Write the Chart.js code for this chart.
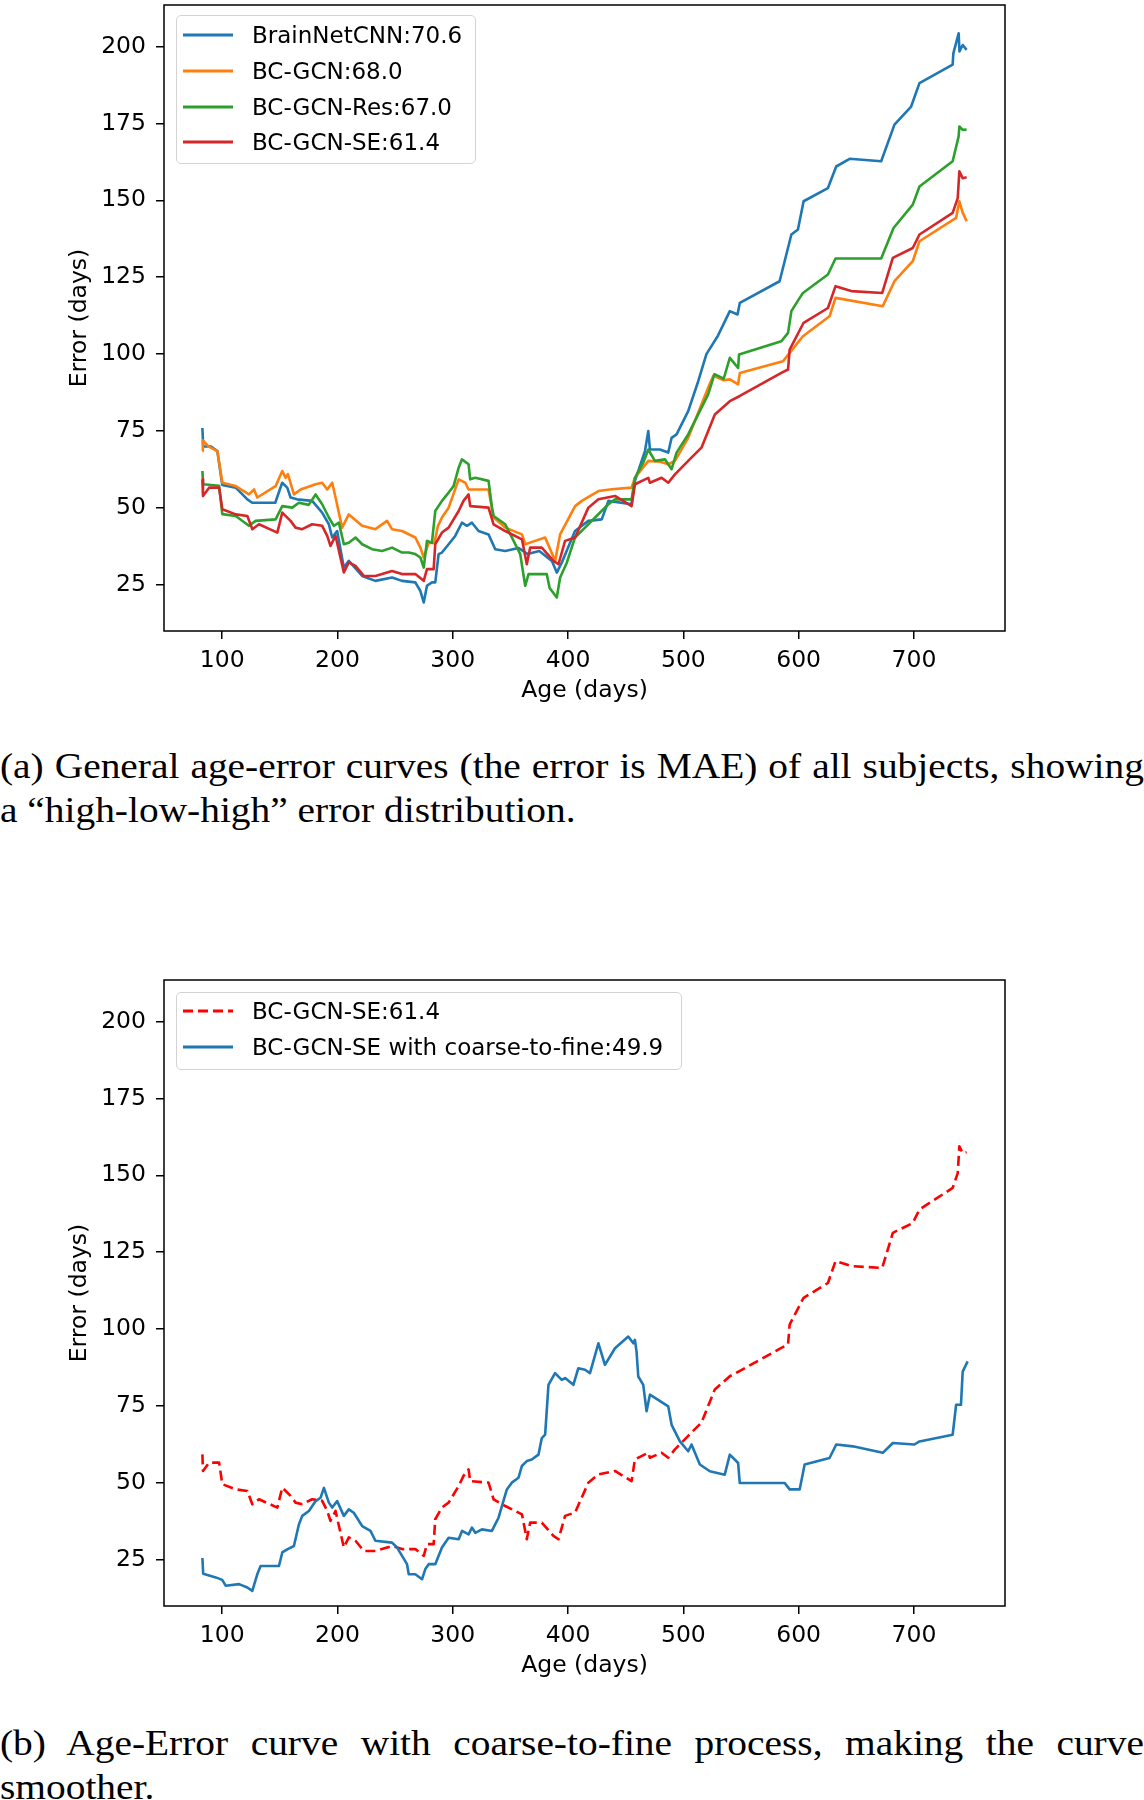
<!DOCTYPE html>
<html>
<head>
<meta charset="utf-8">
<title>Age-error curves</title>
<script src="https://cdn.jsdelivr.net/npm/chart.js@4.4.0/dist/chart.umd.min.js"></script>
<style>
  body{margin:0;width:1144px;height:1800px;overflow:hidden;background:#fff;position:relative}
  canvas{position:absolute;left:0}
  #c1{top:0}
  #c2{top:975px}
  .legend{position:absolute;border:1.5px solid #d3d3d3;border-radius:5px;background:rgba(255,255,255,.8);box-sizing:border-box}
  .legend .row{position:absolute;left:0;height:26px;width:100%}
  .legend svg{position:absolute;left:6px;top:0}
  .legend span{position:absolute;left:75px;top:0;font-family:'DejaVu Sans';font-size:23px;line-height:26px;color:#000;white-space:nowrap}
  .cap{position:absolute;left:0;width:900px;font-family:'Liberation Serif';font-size:31px;line-height:37.3px;text-align:justify;transform:scale(1.271,1.18);transform-origin:0 0;color:#000}
</style>
</head>
<body>
<canvas id="c1" width="1144" height="711"></canvas>
<div class="legend" id="leg1" style="left:176px;top:15px;width:300px;height:149px"></div>
<div class="cap" style="top:744px">(a) General age-error curves (the error is MAE) of all subjects, showing a “high-low-high” error distribution.</div>

<canvas id="c2" width="1144" height="711"></canvas>
<div class="legend" id="leg2" style="left:176px;top:992px;width:506px;height:78px"></div>
<div class="cap" style="top:1721px">(b) Age-Error curve with coarse-to-fine process, making the curve smoother.</div>

<script>
// axis ticks
const ageTicks = [100, 200, 300, 400, 500, 600, 700];
const errTicks = [25, 50, 75, 100, 125, 150, 175, 200];

// BrainNetCNN
const bnAge = [82.8, 83.5, 90, 95.8, 100, 111.7, 121.8, 126, 146, 152, 156.4, 159.3, 165, 178, 186.7, 192.5, 195.4, 199.7, 205.5, 209.8, 221.4, 232.9, 247.3, 256, 267.5, 271.9, 274.8, 277.6, 281.9, 284.8, 287.7, 290.6, 296.4, 302.1, 307.9, 312.3, 316.6, 322.4, 331, 336.8, 345.5, 357, 365, 375, 385.9, 390.2, 394.5, 406, 417.6, 429.2, 435, 455, 458, 466.7, 469.6, 471, 479.7, 486.9, 489.8, 494.1, 504.2, 512.9, 520, 530, 540.3, 547, 549, 583.5, 593.7, 599.4, 604.3, 625.4, 632.6, 644.2, 671.6, 683.1, 697.6, 704.8, 733.6, 734.2, 738.8, 739.5, 742.3, 745.7];
const bnErr = [76, 70, 70, 68.5, 57.5, 56.6, 52.8, 51.7, 51.7, 58.2, 56.6, 53.4, 52.8, 52.3, 48.5, 44.7, 40.4, 42.5, 30.6, 32.8, 27.9, 26.3, 27.4, 26.3, 25.8, 23.0, 19.3, 24.7, 25.8, 25.8, 35.0, 35.5, 38.2, 40.9, 45.2, 44.2, 45.2, 42.5, 41.4, 36.6, 36.0, 37.0, 35.0, 36.0, 32.8, 29.0, 32.2, 42.5, 45.8, 46.3, 52.3, 51.2, 58.8, 68.5, 75.0, 69.0, 69.0, 68.0, 72.8, 73.9, 81.5, 91.2, 100, 106, 114.0, 112.9, 116.7, 123.7, 138.9, 140.5, 149.7, 154.0, 161.0, 163.5, 162.7, 174.6, 180.5, 188.1, 194.1, 197.8, 204.3, 198.4, 200.5, 198.9];

// BC-GCN
const gcnAge = [82.8, 83.2, 88, 95.8, 100.1, 111.7, 123.2, 127.6, 130.4, 146.3, 152.1, 155, 157, 162.2, 168, 181, 186.7, 191.1, 195.4, 198.3, 204, 209.8, 221.4, 232.9, 243, 247.3, 256, 267.5, 271.9, 274.8, 279.1, 284, 287, 290.6, 296.4, 305.1, 310.8, 313.7, 331, 335.4, 345.5, 360, 362.8, 371.4, 380.1, 388.8, 393.1, 406.1, 411.9, 426.3, 437.8, 455.1, 458, 469.6, 480, 486.9, 492.7, 504.2, 521.5, 526, 535, 540.3, 547.5, 549, 586.4, 592.2, 603.7, 626.8, 632, 673, 683.1, 699, 704.8, 736.6, 739.4, 742.3, 745.7];
const gcnErr = [68.5, 72, 70, 68.5, 58.2, 57.1, 54.4, 56.0, 53.4, 57.1, 62.0, 59.8, 61, 54.4, 56.0, 57.7, 58.2, 56.0, 58.2, 53.4, 43.6, 47.9, 44.2, 43.1, 45.8, 43.1, 42.5, 40.4, 37.1, 33.9, 38.7, 38.5, 44, 46.9, 50.1, 59.3, 58.2, 56.0, 56.0, 46.9, 43.6, 41.4, 38.2, 39.3, 40.4, 32.8, 41.4, 50.6, 52.3, 55.5, 56.1, 56.6, 59.8, 65.3, 65, 64.2, 65.3, 72.8, 89.1, 93, 91.5, 91.8, 90.2, 93.9, 97.7, 100.4, 105.8, 112.3, 118.3, 115.6, 123.7, 130.2, 136.7, 144.3, 149.7, 146, 143.2];

// BC-GCN-Res
const resAge = [82.8, 83.5, 97.3, 100.1, 111.7, 123.2, 129, 146.3, 152.1, 160.8, 166.5, 175, 181, 186.7, 192.5, 196.8, 201.2, 205.5, 209.8, 215.6, 221.4, 230, 238.7, 247.3, 256, 261.8, 267.5, 271.9, 274.8, 277.6, 281.9, 284.8, 290.6, 296.4, 300.7, 305.1, 307.9, 313.7, 315.1, 319.5, 331, 334, 335.4, 345.5, 358.5, 362.8, 365.7, 381.5, 384, 390.2, 393.1, 398.9, 406, 414.7, 423.4, 435, 440.7, 455.1, 458, 465.2, 469.6, 475.3, 484, 489.8, 494.1, 504.2, 521.5, 527, 535, 540.3, 547.5, 548.3, 585, 590.8, 593.7, 600.9, 603.7, 625.4, 632, 671.6, 682.3, 699, 704.8, 733.6, 738.8, 739.4, 742.3, 745.7];
const resErr = [62, 57.7, 57.2, 48, 47.4, 44.2, 45.8, 46.3, 50.6, 50.1, 51.7, 51, 54.4, 51.2, 46.9, 44.2, 45.2, 38.2, 38.7, 40.4, 38.2, 36.6, 36.0, 37.1, 35.5, 35.5, 35.0, 33.9, 30.6, 39.3, 38.7, 49.0, 52.3, 55.0, 57.1, 63.1, 65.8, 64.2, 59.3, 59.8, 58.8, 50.1, 47.4, 44.7, 35.0, 24.7, 28.5, 28.5, 24, 20.9, 27.4, 32.2, 40.4, 43.6, 46.9, 51.2, 52.8, 52.8, 59.8, 64.7, 69.0, 65.3, 65.8, 62.6, 68.0, 73.9, 86.9, 93.5, 92, 98.8, 95.5, 99.9, 104.2, 106.9, 114.0, 118.3, 119.9, 125.9, 131.1, 131.1, 141.0, 148.6, 154.5, 162.7, 170.8, 174.0, 172.9, 173];

// BC-GCN-SE (same curve in both panels)
const seAge = [82.8, 83.3, 88.6, 97.3, 100.1, 111.7, 121.8, 126.1, 131.9, 147.8, 152.1, 159.3, 163.6, 169.4, 178, 186.7, 191.1, 193.9, 198.3, 205.5, 209.8, 215.6, 222.8, 232.9, 247.3, 256, 267.5, 274.8, 277.6, 283.4, 284.8, 290.6, 296.4, 305.1, 309.3, 313.7, 315.1, 331, 335.4, 345.5, 360, 364.2, 367.1, 377.2, 387.3, 391.7, 397.4, 406.1, 417.6, 426.3, 440.7, 455.1, 458, 469.6, 471, 481.1, 486.9, 492.7, 504.2, 515.7, 527.3, 540.3, 549, 585, 590.8, 592.2, 604.3, 625.4, 632, 645.6, 672.5, 681.7, 699, 704.8, 733.6, 738, 739.4, 742.3, 745.7];
const seErr = [59.3, 53.9, 56.6, 56.6, 49.6, 47.9, 47.4, 43.1, 44.7, 42.0, 48.5, 45.8, 43.6, 43.1, 44.7, 44.2, 40.9, 37.7, 40.9, 29.0, 32.3, 31.2, 27.9, 27.9, 29.5, 28.5, 28.5, 26.3, 30.1, 30.1, 38.2, 42.0, 43.6, 49.0, 52.3, 54.4, 50.6, 50.1, 44.7, 42.5, 39.8, 31.7, 37.1, 37.1, 32.8, 31.7, 39.3, 40.4, 50.1, 52.8, 53.9, 50.6, 57.7, 59.8, 58.2, 59.8, 58.2, 60.9, 65.3, 69.6, 80.4, 84.7, 86.4, 93.9, 95.0, 101.5, 110.2, 115.0, 122.1, 120.5, 119.9, 131.3, 134.5, 138.9, 145.9, 150.7, 159.4, 157.2, 157.5];

// BC-GCN-SE with coarse-to-fine
const ctfAge = [82.8, 83.5, 94.4, 100, 103, 114.6, 121.8, 126.1, 130.4, 133.3, 149.2, 152.1, 156.4, 162.2, 166.5, 169.4, 175.2, 181, 185.3, 188.2, 192.5, 195.4, 199.7, 205.5, 209.8, 214.1, 221.4, 228.6, 232.9, 247.3, 251.7, 260.3, 261.8, 267.5, 273.3, 276.2, 279.1, 284.8, 290.6, 296.4, 305.1, 308, 313.7, 316.6, 319.5, 325.3, 333.9, 339.7, 346.9, 351.2, 357, 359.9, 364.2, 368.5, 374.3, 377.2, 380.1, 383, 388.7, 394.5, 397.4, 404.6, 408.9, 414.7, 419, 426.3, 432, 440.7, 452.2, 456.6, 458, 459.4, 460.9, 465.2, 468.1, 471, 486.9, 489.8, 497, 504.2, 507.1, 514.3, 523, 535.9, 540.3, 547.5, 548.9, 587.9, 592.2, 600.9, 605.2, 626.8, 632.6, 647, 673, 681.7, 700.4, 704.8, 733.6, 736.6, 740.8, 742.3, 746.6];
const ctfErr = [25.6, 20.5, 19.3, 18.5, 16.6, 17.1, 16.0, 14.9, 20.3, 23.0, 23.0, 27.4, 28.4, 29.5, 36.5, 39.3, 40.9, 44.1, 45.2, 48.4, 43.6, 42.0, 44.1, 39.3, 41.4, 40.3, 36.0, 34.4, 31.2, 30.6, 29.0, 23.6, 20.3, 20.3, 18.7, 22.0, 23.6, 23.6, 29.0, 32.2, 31.7, 34.4, 33.3, 35.5, 33.8, 34.9, 34.4, 38.7, 47.9, 50.1, 51.7, 55.5, 57.1, 57.6, 59.2, 64.6, 65.7, 81.9, 85.7, 83.5, 84.1, 81.9, 87.3, 86.8, 85.7, 95.4, 88.4, 93.8, 97.6, 95.4, 96.5, 92.7, 84.6, 81.9, 73.3, 78.7, 74.9, 68.9, 63.5, 60.3, 62.5, 56.0, 53.8, 52.7, 59.2, 56.5, 50.0, 50.0, 47.9, 47.9, 56.0, 58.1, 62.5, 61.9, 59.8, 63.0, 62.5, 63.5, 65.7, 75.4, 75.4, 86.2, 89.5];

const AGE_MIN = 49.5, AGE_MAX = 779;
const ERR_MIN = 10, ERR_MAX = 213.5;

function pts(xs, ys){
  return xs.map((x, i) => ({x: x, y: ys[i]}));
}

// full box around the plot, like matplotlib spines
const framePlugin = {
  id: 'frame',
  afterDraw(chart){
    const a = chart.chartArea, c = chart.ctx;
    c.save();
    c.strokeStyle = '#000';
    c.lineWidth = 1.5;
    c.strokeRect(a.left, a.top, a.right - a.left, a.bottom - a.top);
    c.restore();
  }
};

Chart.defaults.font.family = 'DejaVu Sans';
Chart.defaults.font.size = 23.5;
Chart.defaults.color = '#000';

function makeChart(id, sets){
  return new Chart(document.getElementById(id), {
    type: 'line',
    data: { datasets: sets },
    options: {
      responsive: false,
      animation: false,
      layout: { padding: { top: 5, right: 139, left: 0, bottom: 0 } },
      plugins: { legend: { display: false }, tooltip: { enabled: false } },
      elements: {
        point: { radius: 0 },
        line: { borderWidth: 2.6, tension: 0, borderJoinStyle: 'round', borderCapStyle: 'butt' }
      },
      scales: {
        x: {
          type: 'linear', min: AGE_MIN, max: AGE_MAX,
          afterBuildTicks: s => { s.ticks = ageTicks.map(v => ({value: v})); },
          // fixed axis box, no extra label overhang
          afterFit: s => { s.height = 80; s.paddingLeft = 0; s.paddingRight = 0; },
          grid: { drawOnChartArea: false, color: '#000', lineWidth: 1.5, tickLength: 8 },
          border: { display: false },
          ticks: { color: '#000', padding: 8, autoSkip: false, maxRotation: 0, callback: v => String(v) },
          title: { display: true, text: 'Age (days)', color: '#000', padding: { top: 0, bottom: 6 } }
        },
        y: {
          type: 'linear', min: ERR_MIN, max: ERR_MAX,
          afterBuildTicks: s => { s.ticks = errTicks.map(v => ({value: v})); },
          afterFit: s => { s.width = 164; s.paddingTop = 0; s.paddingBottom = 0; },
          grid: { drawOnChartArea: false, color: '#000', lineWidth: 1.5, tickLength: 8 },
          border: { display: false },
          ticks: { color: '#000', padding: 10, autoSkip: false, callback: v => String(v) },
          title: { display: true, text: 'Error (days)', color: '#000', padding: { top: 66, bottom: 0 } }
        }
      }
    },
    plugins: [framePlugin]
  });
}

// top panel: red drawn last (on top), like matplotlib plot order
const topSets = [
  { label: 'BrainNetCNN:70.6', data: pts(bnAge, bnErr), borderColor: '#1f77b4', order: 4 },
  { label: 'BC-GCN:68.0', data: pts(gcnAge, gcnErr), borderColor: '#ff7f0e', order: 3 },
  { label: 'BC-GCN-Res:67.0', data: pts(resAge, resErr), borderColor: '#2ca02c', order: 2 },
  { label: 'BC-GCN-SE:61.4', data: pts(seAge, seErr), borderColor: '#d62728', order: 1 }
];
const bottomSets = [
  { label: 'BC-GCN-SE:61.4', data: pts(seAge, seErr), borderColor: '#ff0000', borderDash: [10, 5], order: 2 },
  { label: 'BC-GCN-SE with coarse-to-fine:49.9', data: pts(ctfAge, ctfErr), borderColor: '#1f77b4', order: 1 }
];

makeChart('c1', topSets);
makeChart('c2', bottomSets);

// legends inside the axes (upper left)
function buildLegend(elId, sets, firstRow){
  const box = document.getElementById(elId);
  sets.forEach((d, i) => {
    const row = document.createElement('div');
    row.className = 'row';
    row.style.top = (firstRow + i * 35.8 - 13) + 'px';
    const dash = d.borderDash ? ' stroke-dasharray="10 5"' : '';
    row.innerHTML = '<svg width="52" height="26"><line x1="0" y1="13" x2="50" y2="13" stroke="' + d.borderColor + '" stroke-width="3"' + dash + '/></svg>' +
                    '<span>' + d.label + '</span>';
    box.appendChild(row);
  });
}
buildLegend('leg1', topSets, 19);
buildLegend('leg2', bottomSets, 18);
</script>
</body>
</html>
